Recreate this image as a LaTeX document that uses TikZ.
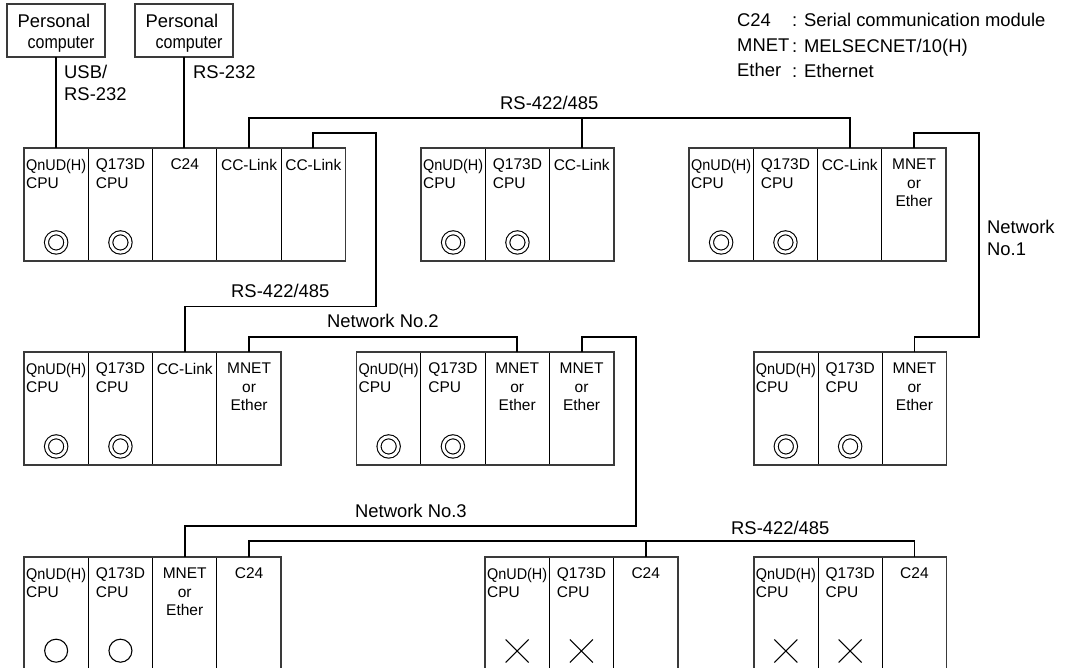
\documentclass[tikz,border=0pt]{standalone}
\usepackage{fontspec}
\setmainfont{Liberation Sans}
\usepackage{xcolor}
\definecolor{rackEdge}{HTML}{3A3A3A}
\usepackage{tikz}
\usetikzlibrary{shapes.misc, positioning, fit}
\newcommand{\qnud}{\scalebox{0.93}[1]{QnUD(H)}}
\newcommand{\pctext}{\rule{0pt}{18.3pt}Personal\\\hspace*{10pt}\scalebox{0.87}[1]{computer}}

\begin{document}
\begin{tikzpicture}[
        x=1pt, y=-1pt,
        slotBox/.style={
            draw,
            line width=0.9pt,
            minimum width=64.3pt,
            minimum height=113pt,
            inner sep=0pt,
            outer sep=0pt
        },
        rackBox/.style={
            draw=rackEdge,
            line width=1.7pt,
            inner sep=0pt,
            outer sep=0pt
        },
        slotText/.style={
            anchor=north,
            yshift=-10.8pt,
            inner sep=0pt,
            align=center,
            font=\fontsize{15.5}{18.6}\selectfont
        },
        cpuText/.style={
            slotText,
            align=left
        },
        pcBox/.style={
            draw=rackEdge,
            line width=1.5pt,
            minimum width=98pt,
            minimum height=53pt,
            inner sep=0pt,
            outer sep=0pt,
            align=left,
            font=\fontsize{18.4}{21}\selectfont
        },
        noteText/.style={
            anchor=base west,
            inner sep=0pt,
            font=\fontsize{18.4}{22}\selectfont
        },
        sideText/.style={
            anchor=north west,
            inner sep=0pt,
            align=left,
            font=\fontsize{18.4}{22}\selectfont
        },
        legendText/.style={
            anchor=north west,
            inner sep=0pt,
            align=left,
            font=\fontsize{18.4}{25.2}\selectfont
        },
        dualMark/.style={
            circle,
            draw,
            line width=1.1pt,
            double,
            double distance=2.9pt,
            minimum size=19.3pt,
            inner sep=0pt,
            outer sep=0pt
        },
        ringMark/.style={
            circle,
            draw,
            line width=1.1pt,
            minimum size=23pt,
            inner sep=0pt,
            outer sep=0pt
        },
        crossMark/.style={
            cross out,
            draw,
            line width=1.1pt,
            minimum size=23pt,
            inner sep=0pt,
            outer sep=0pt
        },
        linkLine/.style={
            line width=1.9pt,
            line join=miter
        }
    ]

    \path[use as bounding box, clip] (0,0) rectangle (1069,668);

    % Personal computers
    \node[pcBox] (pcA) at (56,30.5) {\pctext};
    \node[pcBox] (pcB) at (184,30.5) {\pctext};

    % Top row
    \node[slotBox, anchor=north west, label={[cpuText]north:\qnud\\CPU}] (a1) at (24,148) {};
    \node[slotBox, right=0pt of a1, label={[cpuText]north:Q173D\\CPU}] (a2) {};
    \node[slotBox, right=0pt of a2, label={[slotText]north:C24}] (a3) {};
    \node[slotBox, right=0pt of a3, label={[slotText]north:CC-Link}] (a4) {};
    \node[slotBox, right=0pt of a4, label={[slotText]north:CC-Link}] (a5) {};
    \node[rackBox, fit=(a1)(a5)] (rackA) {};
    \node[dualMark, above=8.9pt of a1.south] (a1m) {};
    \node[dualMark, above=8.9pt of a2.south] (a2m) {};

    \node[slotBox, anchor=north west, label={[cpuText]north:\qnud\\CPU}] (b1) at (421,148) {};
    \node[slotBox, right=0pt of b1, label={[cpuText]north:Q173D\\CPU}] (b2) {};
    \node[slotBox, right=0pt of b2, label={[slotText]north:CC-Link}] (b3) {};
    \node[rackBox, fit=(b1)(b3)] (rackB) {};
    \node[dualMark, above=8.9pt of b1.south] (b1m) {};
    \node[dualMark, above=8.9pt of b2.south] (b2m) {};

    \node[slotBox, anchor=north west, label={[cpuText]north:\qnud\\CPU}] (c1) at (689,148) {};
    \node[slotBox, right=0pt of c1, label={[cpuText]north:Q173D\\CPU}] (c2) {};
    \node[slotBox, right=0pt of c2, label={[slotText]north:CC-Link}] (c3) {};
    \node[slotBox, right=0pt of c3, label={[slotText]north:MNET\\or\\Ether}] (c4) {};
    \node[rackBox, fit=(c1)(c4)] (rackC) {};
    \node[dualMark, above=8.9pt of c1.south] (c1m) {};
    \node[dualMark, above=8.9pt of c2.south] (c2m) {};

    % Middle row
    \node[slotBox, anchor=north west, label={[cpuText]north:\qnud\\CPU}] (d1) at (24,352) {};
    \node[slotBox, right=0pt of d1, label={[cpuText]north:Q173D\\CPU}] (d2) {};
    \node[slotBox, right=0pt of d2, label={[slotText]north:CC-Link}] (d3) {};
    \node[slotBox, right=0pt of d3, label={[slotText]north:MNET\\or\\Ether}] (d4) {};
    \node[rackBox, fit=(d1)(d4)] (rackD) {};
    \node[dualMark, above=8.9pt of d1.south] (d1m) {};
    \node[dualMark, above=8.9pt of d2.south] (d2m) {};

    \node[slotBox, anchor=north west, label={[cpuText]north:\qnud\\CPU}] (e1) at (356.5,352) {};
    \node[slotBox, right=0pt of e1, label={[cpuText]north:Q173D\\CPU}] (e2) {};
    \node[slotBox, right=0pt of e2, label={[slotText]north:MNET\\or\\Ether}] (e3) {};
    \node[slotBox, right=0pt of e3, label={[slotText]north:MNET\\or\\Ether}] (e4) {};
    \node[rackBox, fit=(e1)(e4)] (rackE) {};
    \node[dualMark, above=8.9pt of e1.south] (e1m) {};
    \node[dualMark, above=8.9pt of e2.south] (e2m) {};

    \node[slotBox, anchor=north west, label={[cpuText]north:\qnud\\CPU}] (f1) at (753.7,352) {};
    \node[slotBox, right=0pt of f1, label={[cpuText]north:Q173D\\CPU}] (f2) {};
    \node[slotBox, right=0pt of f2, label={[slotText]north:MNET\\or\\Ether}] (f3) {};
    \node[rackBox, fit=(f1)(f3)] (rackF) {};
    \node[dualMark, above=8.9pt of f1.south] (f1m) {};
    \node[dualMark, above=8.9pt of f2.south] (f2m) {};

    % Bottom row (runs off the lower edge)
    \node[slotBox, anchor=north west, label={[cpuText]north:\qnud\\CPU}] (g1) at (24,557) {};
    \node[slotBox, right=0pt of g1, label={[cpuText]north:Q173D\\CPU}] (g2) {};
    \node[slotBox, right=0pt of g2, label={[slotText]north:MNET\\or\\Ether}] (g3) {};
    \node[slotBox, right=0pt of g3, label={[slotText]north:C24}] (g4) {};
    \node[rackBox, fit=(g1)(g4)] (rackG) {};
    \node[ringMark, above=7.8pt of g1.south] (g1m) {};
    \node[ringMark, above=7.8pt of g2.south] (g2m) {};

    \node[slotBox, anchor=north west, label={[cpuText]north:\qnud\\CPU}] (h1) at (485,557) {};
    \node[slotBox, right=0pt of h1, label={[cpuText]north:Q173D\\CPU}] (h2) {};
    \node[slotBox, right=0pt of h2, label={[slotText]north:C24}] (h3) {};
    \node[rackBox, fit=(h1)(h3)] (rackH) {};
    \node[crossMark, above=7.5pt of h1.south] (h1m) {};
    \node[crossMark, above=7.5pt of h2.south] (h2m) {};

    \node[slotBox, anchor=north west, label={[cpuText]north:\qnud\\CPU}] (i1) at (753.7,557) {};
    \node[slotBox, right=0pt of i1, label={[cpuText]north:Q173D\\CPU}] (i2) {};
    \node[slotBox, right=0pt of i2, label={[slotText]north:C24}] (i3) {};
    \node[rackBox, fit=(i1)(i3)] (rackI) {};
    \node[crossMark, above=7.5pt of i1.south] (i1m) {};
    \node[crossMark, above=7.5pt of i2.south] (i2m) {};

    % Routing corners
    \coordinate (busTop) at (a4.north |- 0,118);
    \coordinate (busLow) at (g4.north |- 0,540.7);

    % Connections
    \draw[linkLine] (pcA) -- (pcA |- a1.north);
    \draw[linkLine] (pcB) -- (pcB |- a3.north);

    \draw[linkLine] (a4.north) |- (c3.north |- busTop) -- (c3.north);
    \draw[linkLine] (b3.north) -- (b3.north |- busTop);

    \draw[linkLine] (a5.north) |- (376,133) |- (d3.north |- 0,306.5) -- (d3.north);
    \draw[linkLine] (d4.north) |- (e3.north |- 0,336.7) -- (e3.north);
    \draw[linkLine] (e4.north) |- (635.7,336.7) |- (g3.north |- 0,525.7) -- (g3.north);
    \draw[linkLine] (c4.north) |- (979,133) |- (f3.north |- 0,336.7) -- (f3.north);

    \draw[linkLine] (g4.north) |- (i3.north |- busLow) -- (i3.north);
    \draw[linkLine] (h3.north) -- (h3.north |- busLow);

    % Labels
    \node[sideText] (usbText) at (64,65.3) {USB/\\RS-232};
    \node[noteText] (rsPc) at (193,78.7) {RS-232};
    \node[noteText] (rsTop) at (500,110) {RS-422/485};
    \node[noteText] (rsMid) at (231,298) {RS-422/485};
    \node[noteText] (netTwo) at (327,328) {Network No.2};
    \node[noteText] (netThree) at (355,517.7) {Network No.3};
    \node[noteText] (rsLow) at (731,534) {RS-422/485};
    \node[sideText] (netOne) at (987,219.8) {Network\\No.1};

    % Legend
    \node[legendText] (legendKeys) at (737,13.3) {C24\\MNET\\Ether};
    \node[legendText] (legendNotes) at (792,13.3) {: Serial communication module\\: MELSECNET/10(H)\\: Ethernet};

\end{tikzpicture}
\end{document}
